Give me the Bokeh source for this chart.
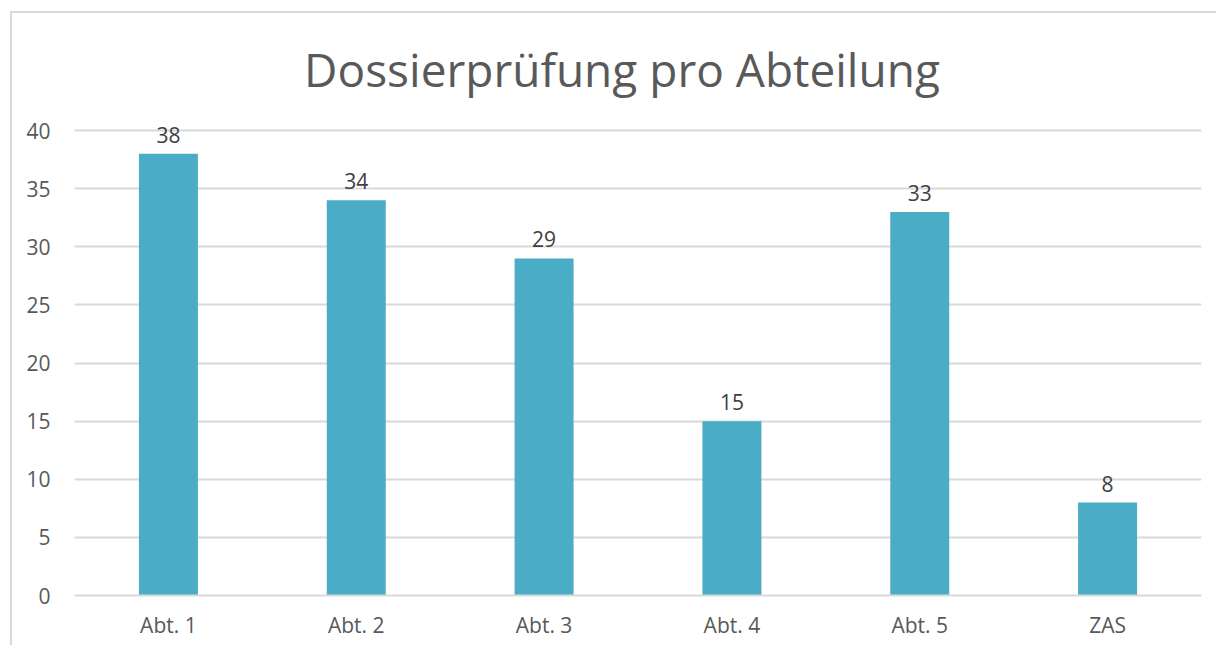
from bokeh.plotting import figure
from bokeh.models import ColumnDataSource, LabelSet, Label, Range1d, FactorRange
from bokeh.core.properties import value
from bokeh.embed import file_html
from bokeh.resources import INLINE

categories = ["Abt. 1", "Abt. 2", "Abt. 3", "Abt. 4", "Abt. 5", "ZAS"]
values = [38, 34, 29, 15, 33, 8]
y_ticks = [0, 5, 10, 15, 20, 25, 30, 35, 40]
title_text = "Dossierprüfung pro Abteilung"

FONT = "Open Sans"
BAR = "#4BACC6"
GRID = "#d9d9d9"
TXT = "#595959"

src = ColumnDataSource(dict(cat=categories, val=values, lab=[str(v) for v in values]))

# frame spans from 10px below the chart's top edge down to the zero line;
# 40 units occupy 465 px, so the range top is extended to leave room for the title
px_per_unit = 465 / 40
frame_px = 572
y_top = frame_px / px_per_unit

p = figure(
    x_range=FactorRange(*categories, range_padding=0),
    y_range=Range1d(0, y_top),
    width=1206, height=634,
    output_backend="svg", toolbar_location=None,
    min_border_left=62, min_border_right=17, min_border_top=10, min_border_bottom=52,
)
p.margin = (11, 0, 0, 10)
p.styles = {"border-left": "2px solid #d9d9d9", "border-top": "2px solid #d9d9d9"}

p.vbar(x="cat", top="val", width=0.314, source=src, fill_color=BAR, line_color=None)

labels = LabelSet(x="cat", y="val", text="lab", source=src, text_align="center",
                  text_baseline="bottom", y_offset=11, text_font_size="21px",
                  text_color="#404040", text_font=value(FONT))
p.add_layout(labels)

title = Label(x=len(categories) / 2, y=max(y_ticks), text=title_text,
              x_offset=-16, y_offset=62, text_align="center", text_baseline="alphabetic",
              text_font=FONT, text_font_size="46px", text_color=TXT)
p.add_layout(title)

p.yaxis.ticker = y_ticks
p.yaxis.axis_line_color = None
p.yaxis.major_tick_line_color = None
p.yaxis.major_tick_out = 0
p.yaxis.minor_tick_line_color = None
p.yaxis.minor_tick_out = 0
p.yaxis.major_label_text_font = FONT
p.yaxis.major_label_text_font_size = "21px"
p.yaxis.major_label_text_color = TXT
p.yaxis.major_label_standoff = 24

p.xaxis.axis_line_color = GRID
p.xaxis.axis_line_width = 2
p.xaxis.major_tick_line_color = None
p.xaxis.major_tick_out = 0
p.xaxis.minor_tick_line_color = None
p.xaxis.major_label_text_font = FONT
p.xaxis.major_label_text_font_size = "21px"
p.xaxis.major_label_text_color = TXT
p.xaxis.major_label_standoff = 15

p.xgrid.grid_line_color = None
p.ygrid.grid_line_color = GRID
p.ygrid.grid_line_width = 2
p.outline_line_color = None

open("out.html", "w").write(file_html(p, INLINE))
